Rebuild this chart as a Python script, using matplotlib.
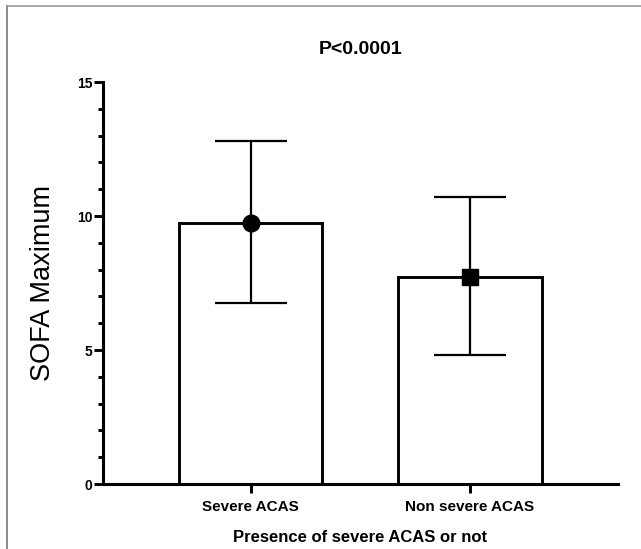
import matplotlib.pyplot as plt
from matplotlib.lines import Line2D
from matplotlib.ticker import MultipleLocator

plt.rcParams["font.family"] = ["Liberation Sans", "DejaVu Sans"]

# data
groups = ["Severe ACAS", "Non severe ACAS"]
means = [9.75, 7.74]
sd_up = [3.05, 2.98]
sd_low = [3.0, 2.92]
markers = ["o", "s"]

fig = plt.figure(figsize=(6.41, 5.49), dpi=100)
ax = fig.add_axes([103 / 641, 65 / 549, 515 / 641, 402 / 549])

x = list(range(len(groups)))
ax.bar(x, means, width=0.655, color="white", edgecolor="black", linewidth=2.1, zorder=1)
for i in x:
    ax.errorbar(x[i], means[i], yerr=[[sd_low[i]], [sd_up[i]]], fmt=markers[i],
                color="black", ms=12 if markers[i] == "o" else 11.5,
                elinewidth=1.6, capsize=26, capthick=1.6, zorder=3)

ax.set_xlim(-0.672, 1.674)
ax.set_ylim(0, 15)
ax.set_xticks(x)
ax.set_xticklabels(groups, fontsize=11, fontweight="bold")
ax.set_yticks([0, 5, 10, 15])
ax.set_yticklabels(["0", "5", "10", "15"], fontsize=10, fontweight="bold")
ax.yaxis.set_minor_locator(MultipleLocator(1))
ax.tick_params(axis="both", which="major", length=6.5, width=2.1, direction="out")
ax.tick_params(axis="y", which="major", pad=1)
ax.tick_params(axis="x", which="major", pad=5)
ax.tick_params(axis="y", which="minor", length=3.5, width=2.1)

for side in ["top", "right"]:
    ax.spines[side].set_visible(False)
for side in ["left", "bottom"]:
    ax.spines[side].set_linewidth(2.2)

ax.set_ylabel("SOFA Maximum", fontsize=19.5)
ax.yaxis.label.set_va("center")
ax.yaxis.set_label_coords(-0.1165, 0.5)
ax.set_xlabel("Presence of severe ACAS or not", fontsize=12, fontweight="bold")
ax.xaxis.set_label_coords(0.5, -0.115)
ax.text(0.5, 1.082, "P<0.0001", transform=ax.transAxes, ha="center", va="center",
        fontsize=14, fontweight="bold")

# thin grey frame on the left and top edges of the picture
fig.add_artist(Line2D([6.5 / 641, 6.5 / 641], [0, 1 - 5.5 / 549], color="#777777", lw=1.2))
fig.add_artist(Line2D([6.5 / 641, 1], [1 - 5.5 / 549, 1 - 5.5 / 549], color="#999999", lw=1.2))

fig.savefig("out.png", dpi=100)
